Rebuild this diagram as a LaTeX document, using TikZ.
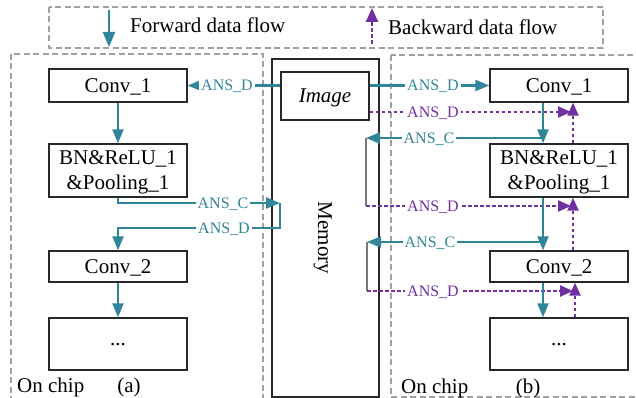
\documentclass[tikz,border=0pt]{standalone}
\usepackage{fontspec}
\setmainfont{Liberation Serif}
\usetikzlibrary{arrows.meta,calc}

\definecolor{fwdc}{RGB}{49,133,155}
\definecolor{bwdc}{RGB}{112,48,160}
\definecolor{framec}{RGB}{160,160,160}
\definecolor{edgec}{RGB}{40,40,40}
\definecolor{loopc}{RGB}{120,120,120}

\newcommand\figfont{\fontsize{21}{25}\selectfont}
\newcommand\lblfont{\fontsize{16}{18}\selectfont}

\tikzset{
  layer/.style={draw=edgec, line width=1.4pt, minimum width=138pt, inner sep=0pt,
                font=\figfont, align=center, text depth=0pt},
  fwd/.style={draw=fwdc, line width=2.3pt, -{Triangle[length=14pt,width=11pt]}},
  bwd/.style={draw=bwdc, line width=2.3pt, dash pattern=on 3.5pt off 2.5pt,
              -{Triangle[length=13pt,width=11pt]}},
  flab/.style={font=\lblfont, text=fwdc, fill=white, inner xsep=2pt, inner ysep=1pt, text depth=0pt},
  blab/.style={font=\lblfont, text=bwdc, fill=white, inner xsep=2pt, inner ysep=1pt, text depth=0pt},
  frame/.style={draw=framec, line width=1.1pt, dash pattern=on 6pt off 3.5pt},
  loopline/.style={draw=loopc, line width=1.8pt},
  plain/.style={font=\figfont, inner sep=0pt}
}

\begin{document}
\begin{tikzpicture}[x=1pt,y=-1pt]
\useasboundingbox (0,0) rectangle (636,398);
\clip (0,0) rectangle (636,398);

% ---------- legend ----------
\draw[frame] (49,7) rectangle (603,48);
\coordinate (fwdTop) at (109,10);
\coordinate (fwdBot) at (109,47);
\draw[fwd, -{Triangle[length=15pt,width=12pt]}] (fwdTop) -- (fwdBot);
\node[plain, anchor=base west] (fwdTxt) at (130,33) {Forward data flow};
\coordinate (bwdBot) at (372,44);
\coordinate (bwdTop) at (372,8);
\draw[bwd, -{Triangle[length=14pt,width=12pt]}] (bwdBot) -- (bwdTop);
\node[plain, anchor=base west] (bwdTxt) at (388,35) {Backward data flow};

% ---------- on-chip frames ----------
\draw[frame] (11,54) rectangle (263,405);
\draw[frame] (391,55) rectangle (645,397);

% ---------- memory ----------
\node[draw=edgec, line width=1.4pt, minimum width=107pt, minimum height=338pt, inner sep=0pt]
  (mem) at (325.5,228) {};
\node[plain, rotate=-90, text depth=0pt] (memTxt) at (325,238) {Memory};
\node[draw=edgec, line width=1.4pt, minimum width=88pt, minimum height=48pt, inner sep=0pt,
      font=\figfont\itshape, text depth=0pt] (img) at (325,96) {Image};

% ---------- layers (a) ----------
\node[layer, minimum height=33pt] (a1) at (118,85.5) {Conv\_1};
\node[layer, minimum height=53pt] (a2) at (118,170.5) {BN\&ReLU\_1\\\&Pooling\_1};
\node[layer, minimum height=31pt] (a3) at (118,266.5) {Conv\_2};
\node[layer, minimum height=52pt] (a4) at (118,344) {...};

% ---------- layers (b) ----------
\node[layer, minimum height=33pt] (b1) at (559,85.5) {Conv\_1};
\node[layer, minimum height=53pt] (b2) at (559,170.5) {BN\&ReLU\_1\\\&Pooling\_1};
\node[layer, minimum height=31pt] (b3) at (559,266.5) {Conv\_2};
\node[layer, minimum height=52pt] (b4) at (559,344) {...};

% ---------- data flow (a) ----------
\draw[fwd] (img.west |- a1.east) -- (a1.east);
\node[flab] (la1) at (227,85.5) {ANS\_D};
\draw[fwd] (a1.south) -- (a2.north);
\coordinate (aTurn) at (280,203);
\coordinate (aLow) at (280,228);
\draw[fwd] (a2.south) |- (aTurn);
\draw[fwd] (aTurn) -- (aLow) -| (a3.north);
\node[flab] (la2) at (223,203) {ANS\_C};
\node[flab] (la3) at (224,228) {ANS\_D};
\draw[fwd] (a3.south) -- (a4.north);

% ---------- data flow (b) ----------
\coordinate (colF) at (543,0);
\coordinate (colU) at (573,0);
\coordinate (colU2) at (575,0);

\draw[fwd] (img.east |- b1.west) -- (b1.west);
\node[flab] (lb1) at (433,85.5) {ANS\_D};

\coordinate (bD1) at (571,112);
\draw[bwd] (img.east |- bD1) -- (bD1);
\node[blab] (lb2) at (433,112) {ANS\_D};

\draw[fwd] (colF |- b1.south) -- (colF |- b2.north);
\draw[bwd] (colU |- b2.north) -- (colU |- b1.south);

\coordinate (bC1) at (366,138);
\coordinate (bL1) at (366,206);
\coordinate (bD2) at (571,206);
\draw[loopline] (bC1) -- (bL1);
\draw[fwd] (colF |- bC1) -- (bC1);
\node[flab] (lb3) at (429,138) {ANS\_C};
\draw[bwd] (bL1) -- (bD2);
\node[blab] (lb4) at (433,206) {ANS\_D};

\draw[fwd] (colF |- b2.south) -- (colF |- b3.north);
\draw[bwd] (colU |- b3.north) -- (colU |- b2.south);

\coordinate (bC2) at (367,242);
\coordinate (bL2) at (367,291);
\coordinate (bD3) at (573,291);
\draw[loopline] (bC2) -- (bL2);
\draw[fwd] (colF |- bC2) -- (bC2);
\node[flab] (lb5) at (430,242) {ANS\_C};
\draw[bwd] (bL2) -- (bD3);
\node[blab] (lb6) at (433,291) {ANS\_D};

\draw[fwd] (colF |- b3.south) -- (colF |- b4.north);
\draw[bwd] (colU2 |- b4.north) -- (colU2 |- b3.south);

% ---------- captions ----------
\node[plain, anchor=base west] (ocA) at (17,392) {On chip};
\node[plain, anchor=base] (tagA) at (129,392) {(a)};
\node[plain, anchor=base west] (ocB) at (401,393) {On chip};
\node[plain, anchor=base] (tagB) at (528,393) {(b)};
\end{tikzpicture}
\end{document}
